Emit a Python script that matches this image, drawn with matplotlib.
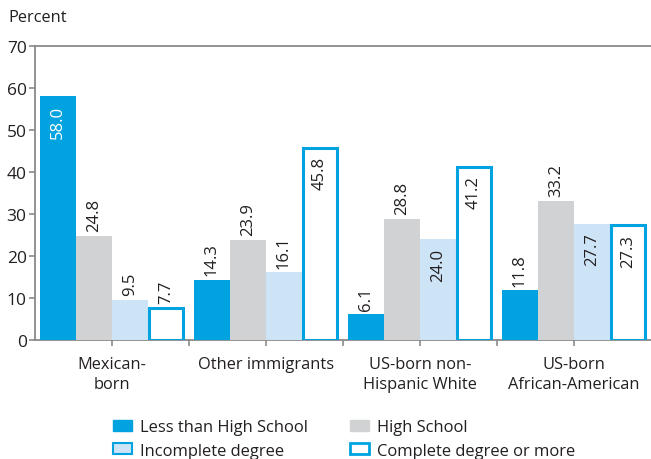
import numpy as np
import matplotlib
matplotlib.use("Agg")
import matplotlib.pyplot as plt
from matplotlib.patches import Patch

plt.rcParams['font.family'] = ['Open Sans', 'DejaVu Sans']

groups = ['Mexican-\nborn', 'Other immigrants', 'US-born non-\nHispanic White', 'US-born\nAfrican-American']
series = ['Less than High School', 'High School', 'Incomplete degree', 'Complete degree or more']
less_hs = [58.0, 14.3, 6.1, 11.8]
high_school = [24.8, 23.9, 28.8, 33.2]
incomplete = [9.5, 16.1, 24.0, 27.7]
complete = [7.7, 45.8, 41.2, 27.3]
y_ticks = [0, 10, 20, 30, 40, 50, 60, 70]

blue = '#00a3e0'
gray = '#d1d2d4'
light = '#cde4f6'
text_col = '#231f20'
axis_col = '#8a8a8a'

fig = plt.figure(figsize=(6.51, 4.60), dpi=100)
ax = fig.add_axes([35 / 651, 1 - 341 / 460, 1 - 35 / 651, (341 - 47) / 460])

x = np.arange(len(groups))
w = 0.234
offsets = [-1.5 * w, -0.5 * w, 0.5 * w, 1.5 * w]
data = [less_hs, high_school, incomplete, complete]
faces = [blue, gray, light, 'white']

for k, vals in enumerate(data):
    if k == 3:
        bars = ax.bar(x + offsets[k], vals, w * 0.93, color='white', edgecolor=blue, linewidth=2.2, zorder=3)
    else:
        bars = ax.bar(x + offsets[k], vals, w, color=faces[k], edgecolor='none', zorder=3)
    for b, v in zip(bars, vals):
        cx = b.get_x() + b.get_width() / 2
        # tall bars get the label inside, except the gray ones
        inside = v > 20 and k != 1
        if inside:
            ax.annotate(f'{v:.1f}', (cx, v), xytext=(0, -6), textcoords='offset points',
                        rotation=90, ha='center', va='top', fontsize=12,
                        color='white' if k == 0 else text_col, zorder=4)
        else:
            ax.annotate(f'{v:.1f}', (cx, v), xytext=(0, 3.5), textcoords='offset points',
                        rotation=90, ha='center', va='bottom', fontsize=12,
                        color=text_col, zorder=4)

ax.set_xlim(-0.5, len(groups) - 0.5)
ax.set_ylim(0, 70)
ax.set_yticks(y_ticks)
ax.set_yticklabels([str(t) for t in y_ticks], fontsize=12.5, color=text_col)

ax.set_xticks(list(x) + [i + 0.5 for i in range(len(groups) - 1)])
ax.set_xticklabels([])
for i, g in enumerate(groups):
    ax.text(i, -3.8, g, ha='center', va='top', fontsize=11.8, color=text_col,
            linespacing=1.3)

for s in ['left', 'top', 'bottom']:
    ax.spines[s].set_color(axis_col)
    ax.spines[s].set_linewidth(1.3)
ax.spines['right'].set_visible(False)
ax.tick_params(axis='both', colors=axis_col, length=4, width=1.2, direction='out')
ax.tick_params(axis='y', labelcolor=text_col, pad=2)

fig.text(8 / 651, 1 - 18 / 460, 'Percent', fontsize=11.8, color=text_col, va='center', ha='left')

handles = [Patch(facecolor=blue, edgecolor=blue),
           Patch(facecolor=light, edgecolor=blue, linewidth=1.5),
           Patch(facecolor=gray, edgecolor=gray),
           Patch(facecolor='white', edgecolor=blue, linewidth=2)]
labels = [series[0], series[2], series[1], series[3]]
fig.legend(handles, labels, ncol=2, loc='center left', bbox_to_anchor=(98 / 651, 1 - 440 / 460),
           frameon=False, fontsize=11.9, handlelength=1.15, handleheight=0.65,
           handletextpad=0.5, columnspacing=2.55, labelspacing=0.45, labelcolor=text_col)

fig.savefig('out.png', dpi=100)
